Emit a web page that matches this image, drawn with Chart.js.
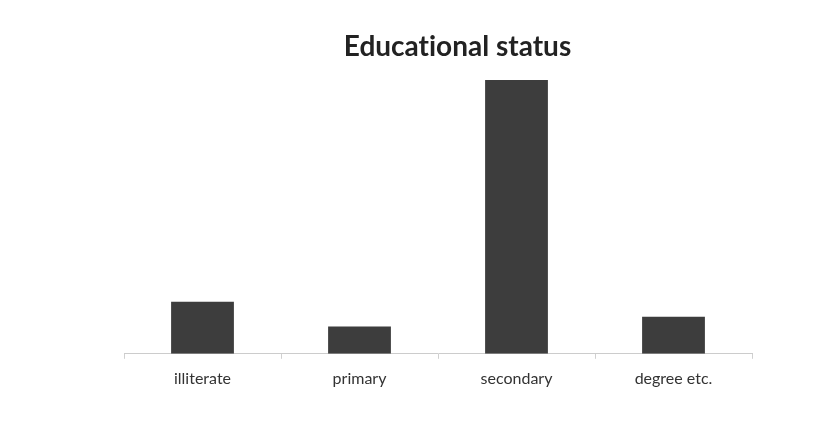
<!DOCTYPE html>
<html>
<head>
<meta charset="utf-8">
<script src="https://cdn.jsdelivr.net/npm/chart.js@4"></script>
<style>
  html, body { margin: 0; padding: 0; background: #fff; }
  #wrap { position: relative; width: 821px; height: 433px; }
  #title {
    position: absolute; left: 0; top: 28px; width: 915px;
    text-align: center; font-family: Lato, sans-serif; font-weight: bold;
    font-size: 28px; color: #222; font-variant-ligatures: none;
  }
</style>
</head>
<body>
<div id="wrap">
  <div id="title">Educational status</div>
  <canvas id="eduChart" width="821" height="433"></canvas>
</div>
<script>
var categories = ['illiterate', 'primary', 'secondary', 'degree etc.'];
var values = [19, 10, 100, 13.5];

var ctx = document.getElementById('eduChart').getContext('2d');
var eduChart = new Chart(ctx, {
    type: 'bar',
    data: {
        labels: categories,
        datasets: [{
            label: 'Educational status',
            data: values,
            backgroundColor: '#3d3d3d',
            borderWidth: 0,
            categoryPercentage: 1,
            barPercentage: 0.4
        }]
    },
    options: {
        responsive: false,
        animation: false,
        layout: { padding: { left: 124, right: 69, top: 80, bottom: 35 } },
        plugins: {
            legend: { display: false },
            tooltip: { enabled: false }
        },
        scales: {
            x: {
                grid: { display: true, offset: true, drawOnChartArea: false, tickLength: 5, color: '#d0d0d0' },
                border: { display: true, color: '#cccccc' },
                ticks: { color: '#333', padding: 10, font: { family: 'Lato', size: 16 } }
            },
            y: {
                display: false,
                min: 0,
                max: 100
            }
        }
    }
});
</script>
</body>
</html>
